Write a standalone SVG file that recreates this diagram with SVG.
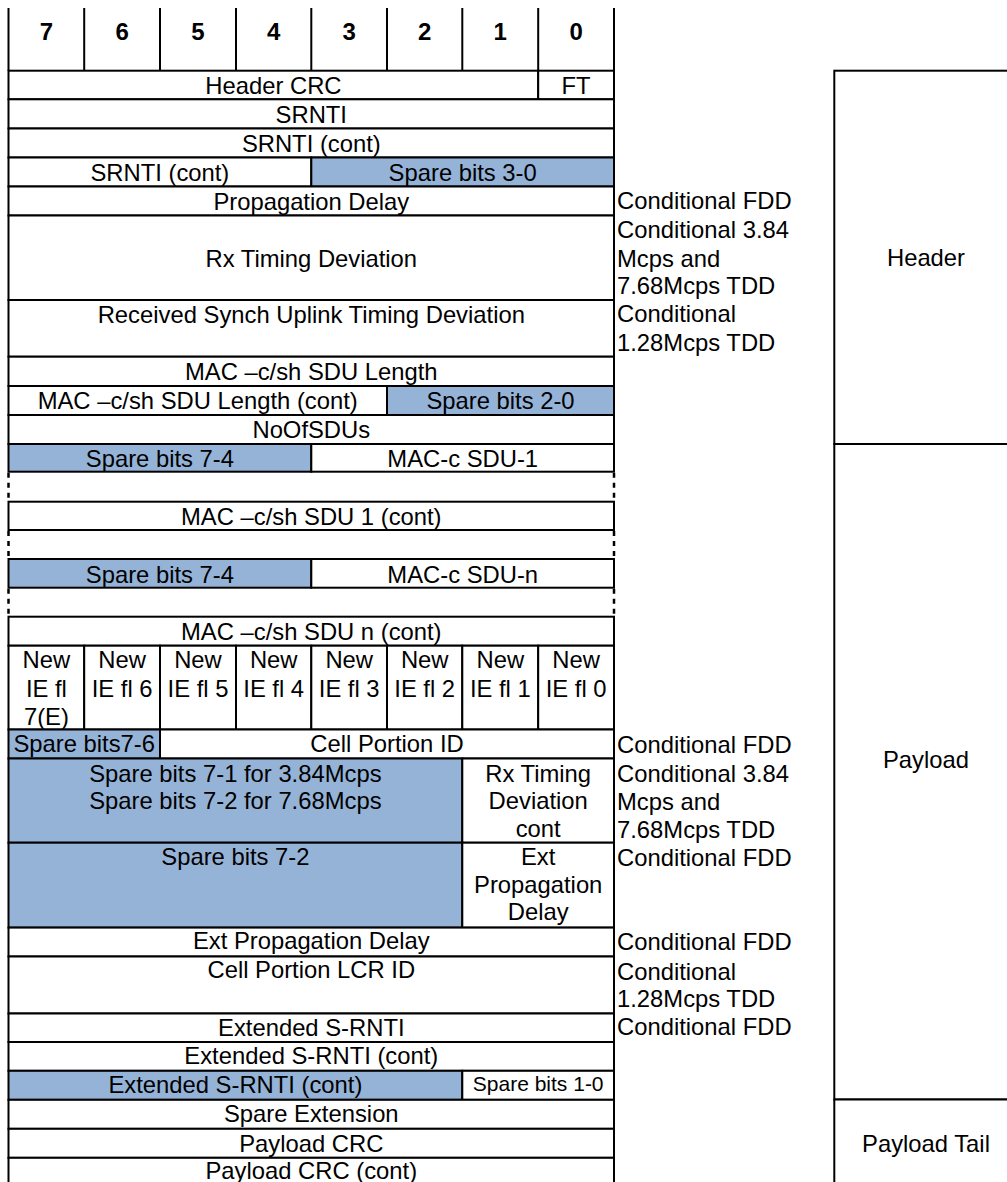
<svg xmlns="http://www.w3.org/2000/svg" width="1007" height="1182" viewBox="0 0 1007 1182">
<style>
.c{fill:#fff;stroke:#000;stroke-width:2}
.s{fill:#95B3D7;stroke:#000;stroke-width:2}
.ln{stroke:#000;stroke-width:2;fill:none}
.dot{stroke:#000;stroke-width:2.5;fill:none;stroke-dasharray:5 5}
text{font-family:"Liberation Sans",Arial,sans-serif;font-size:23.8px;fill:#000}
.m{text-anchor:middle}
.b{font-weight:bold;font-size:24px}
.sm{font-size:21px}
</style>
<rect width="1007" height="1182" fill="#fff"/>

<g id="bit-header">
<path class="ln" d="M8.5,8V70.7M84.2,8V70.7M160,8V70.7M236,8V70.7M311.3,8V70.7M387,8V70.7M462.3,8V70.7M538.2,8V70.7M614,8V70.7"/>
<text class="m b" x="46.4" y="40">7</text>
<text class="m b" x="122.1" y="40">6</text>
<text class="m b" x="198" y="40">5</text>
<text class="m b" x="273.7" y="40">4</text>
<text class="m b" x="349.2" y="40">3</text>
<text class="m b" x="424.7" y="40">2</text>
<text class="m b" x="500.3" y="40">1</text>
<text class="m b" x="576.1" y="40">0</text>
</g>

<g id="row-header-crc">
<rect class="c" x="8.5" y="70.7" width="529.7" height="28.6"/>
<text class="m" x="273.4" y="94.2">Header CRC</text>
<rect class="c" x="538.2" y="70.7" width="75.8" height="28.6"/>
<text class="m" x="576.1" y="94.2">FT</text>
</g>

<g id="row-srnti">
<rect class="c" x="8.5" y="99.3" width="605.5" height="29.2"/>
<text class="m" x="311.3" y="122.8">SRNTI</text>
</g>

<g id="row-srnti-cont">
<rect class="c" x="8.5" y="128.5" width="605.5" height="29"/>
<text class="m" x="311.3" y="152">SRNTI (cont)</text>
</g>

<g id="row-srnti-cont2">
<rect class="c" x="8.5" y="157.5" width="302.8" height="29"/>
<text class="m" x="159.9" y="181">SRNTI (cont)</text>
<rect class="s" x="311.3" y="157.5" width="302.7" height="29"/>
<text class="m" x="462.7" y="181">Spare bits 3-0</text>
</g>

<g id="row-propagation-delay">
<rect class="c" x="8.5" y="186.5" width="605.5" height="29"/>
<text class="m" x="311.3" y="210">Propagation Delay</text>
</g>

<g id="row-rx-timing">
<rect class="c" x="8.5" y="215.5" width="605.5" height="84.5"/>
<text class="m" x="311.3" y="266.5">Rx Timing Deviation</text>
</g>

<g id="row-received-synch">
<rect class="c" x="8.5" y="300" width="605.5" height="56.7"/>
<text class="m" x="311.3" y="322.7">Received Synch Uplink Timing Deviation</text>
</g>

<g id="row-sdu-length">
<rect class="c" x="8.5" y="356.7" width="605.5" height="29.3"/>
<text class="m" x="311.3" y="380">MAC –c/sh SDU Length</text>
</g>

<g id="row-sdu-length-cont">
<rect class="c" x="8.5" y="386" width="378.5" height="29"/>
<text class="m" x="197.7" y="409">MAC –c/sh SDU Length (cont)</text>
<rect class="s" x="387" y="386" width="227" height="29"/>
<text class="m" x="500.5" y="409">Spare bits 2-0</text>
</g>

<g id="row-noofsdus">
<rect class="c" x="8.5" y="415" width="605.5" height="29"/>
<text class="m" x="311.3" y="438">NoOfSDUs</text>
</g>

<g id="row-sdu-1">
<rect class="s" x="8.5" y="444" width="302.8" height="27.7"/>
<text class="m" x="159.9" y="466.5">Spare bits 7-4</text>
<rect class="c" x="311.3" y="444" width="302.7" height="27.7"/>
<text class="m" x="462.7" y="466.5">MAC-c SDU-1</text>
</g>

<g id="row-sdu-1-cont">
<rect class="c" x="8.5" y="501.7" width="605.5" height="28.3"/>
<text class="m" x="311.3" y="525">MAC –c/sh SDU 1 (cont)</text>
</g>

<g id="row-sdu-n">
<rect class="s" x="8.5" y="559" width="302.8" height="28.7"/>
<text class="m" x="159.9" y="582.5">Spare bits 7-4</text>
<rect class="c" x="311.3" y="559" width="302.7" height="28.7"/>
<text class="m" x="462.7" y="582.5">MAC-c SDU-n</text>
</g>

<g id="row-sdu-n-cont">
<rect class="c" x="8.5" y="616.7" width="605.5" height="29"/>
<text class="m" x="311.3" y="640">MAC –c/sh SDU n (cont)</text>
</g>

<g id="connectors">
<path class="dot" d="M8.5,472.7V500.7M614,472.7V500.7M8.5,531V558M614,531V558M8.5,588.7V615.7M614,588.7V615.7"/>
</g>

<g id="row-new-ie-flags">
<rect class="c" x="8.5" y="645.7" width="75.7" height="83.8"/>
<rect class="c" x="84.2" y="645.7" width="75.8" height="83.8"/>
<rect class="c" x="160" y="645.7" width="76" height="83.8"/>
<rect class="c" x="236" y="645.7" width="75.3" height="83.8"/>
<rect class="c" x="311.3" y="645.7" width="75.7" height="83.8"/>
<rect class="c" x="387" y="645.7" width="75.3" height="83.8"/>
<rect class="c" x="462.3" y="645.7" width="75.9" height="83.8"/>
<rect class="c" x="538.2" y="645.7" width="75.8" height="83.8"/>
<text class="m" x="46.4" y="668.3">New</text>
<text class="m" x="46.4" y="696.7">IE fl</text>
<text class="m" x="46.4" y="725">7(E)</text>
<text class="m" x="122.1" y="668.3">New</text>
<text class="m" x="122.1" y="696.7">IE fl 6</text>
<text class="m" x="198" y="668.3">New</text>
<text class="m" x="198" y="696.7">IE fl 5</text>
<text class="m" x="273.7" y="668.3">New</text>
<text class="m" x="273.7" y="696.7">IE fl 4</text>
<text class="m" x="349.2" y="668.3">New</text>
<text class="m" x="349.2" y="696.7">IE fl 3</text>
<text class="m" x="424.7" y="668.3">New</text>
<text class="m" x="424.7" y="696.7">IE fl 2</text>
<text class="m" x="500.3" y="668.3">New</text>
<text class="m" x="500.3" y="696.7">IE fl 1</text>
<text class="m" x="576.1" y="668.3">New</text>
<text class="m" x="576.1" y="696.7">IE fl 0</text>
</g>

<g id="row-cell-portion">
<rect class="s" x="8.5" y="729.5" width="151.5" height="29"/>
<text class="m" x="84.2" y="752">Spare bits7-6</text>
<rect class="c" x="160" y="729.5" width="454" height="29"/>
<text class="m" x="387" y="752">Cell Portion ID</text>
</g>

<g id="row-rx-timing-cont">
<rect class="s" x="8.5" y="758.5" width="453.8" height="84.2"/>
<text class="m" x="235.4" y="781.7">Spare bits 7-1 for 3.84Mcps</text>
<text class="m" x="235.4" y="809.3">Spare bits 7-2 for 7.68Mcps</text>
<rect class="c" x="462.3" y="758.5" width="151.7" height="84.2"/>
<text class="m" x="538.2" y="781.7">Rx Timing</text>
<text class="m" x="538.2" y="809.3">Deviation</text>
<text class="m" x="538.2" y="836.7">cont</text>
</g>

<g id="row-ext-prop-msb">
<rect class="s" x="8.5" y="842.7" width="453.8" height="84.9"/>
<text class="m" x="235.4" y="865">Spare bits 7-2</text>
<rect class="c" x="462.3" y="842.7" width="151.7" height="84.9"/>
<text class="m" x="538.2" y="865">Ext</text>
<text class="m" x="538.2" y="893.3">Propagation</text>
<text class="m" x="538.2" y="920">Delay</text>
</g>

<g id="row-ext-prop">
<rect class="c" x="8.5" y="927.6" width="605.5" height="28.9"/>
<text class="m" x="311.3" y="949.3">Ext Propagation Delay</text>
</g>

<g id="row-cell-portion-lcr">
<rect class="c" x="8.5" y="956.5" width="605.5" height="57"/>
<text class="m" x="311.3" y="978.3">Cell Portion LCR ID</text>
</g>

<g id="row-ext-srnti">
<rect class="c" x="8.5" y="1013.5" width="605.5" height="28.5"/>
<text class="m" x="311.3" y="1035.5">Extended S-RNTI</text>
</g>

<g id="row-ext-srnti-cont">
<rect class="c" x="8.5" y="1042" width="605.5" height="28.8"/>
<text class="m" x="311.3" y="1064">Extended S-RNTI (cont)</text>
</g>

<g id="row-ext-srnti-cont2">
<rect class="s" x="8.5" y="1070.8" width="453.8" height="29"/>
<text class="m" x="235.4" y="1093">Extended S-RNTI (cont)</text>
<rect class="c" x="462.3" y="1070.8" width="151.7" height="29"/>
<text class="m sm" x="538.2" y="1091">Spare bits 1-0</text>
</g>

<g id="row-spare-extension">
<rect class="c" x="8.5" y="1099.8" width="605.5" height="29"/>
<text class="m" x="311.3" y="1121.5">Spare Extension</text>
</g>

<g id="row-payload-crc">
<rect class="c" x="8.5" y="1128.8" width="605.5" height="29"/>
<text class="m" x="311.3" y="1151.7">Payload CRC</text>
</g>

<g id="row-payload-crc-cont">
<rect class="c" x="8.5" y="1157.8" width="605.5" height="40"/>
<text class="m" x="311.3" y="1179">Payload CRC (cont)</text>
</g>

<g id="conditions">
<text x="617" y="209.3">Conditional FDD</text>
<text x="617" y="238.3">Conditional 3.84</text>
<text x="617" y="266.7">Mcps and</text>
<text x="617" y="294">7.68Mcps TDD</text>
<text x="617" y="322.3">Conditional</text>
<text x="617" y="350.7">1.28Mcps TDD</text>
<text x="617" y="753.3">Conditional FDD</text>
<text x="617" y="782">Conditional 3.84</text>
<text x="617" y="810">Mcps and</text>
<text x="617" y="837.5">7.68Mcps TDD</text>
<text x="617" y="866">Conditional FDD</text>
<text x="617" y="950">Conditional FDD</text>
<text x="617" y="979.5">Conditional</text>
<text x="617" y="1007">1.28Mcps TDD</text>
<text x="617" y="1035">Conditional FDD</text>
</g>

<g id="section-header">
<rect class="c" x="834.3" y="70.7" width="190" height="373.3"/>
<text class="m" x="926" y="266">Header</text>
</g>
<g id="section-payload">
<rect class="c" x="834.3" y="444" width="190" height="655.5"/>
<text class="m" x="926" y="767.5">Payload</text>
</g>
<g id="section-payload-tail">
<rect class="c" x="834.3" y="1099.5" width="190" height="100"/>
<text class="m" x="926" y="1152">Payload Tail</text>
</g>
</svg>
